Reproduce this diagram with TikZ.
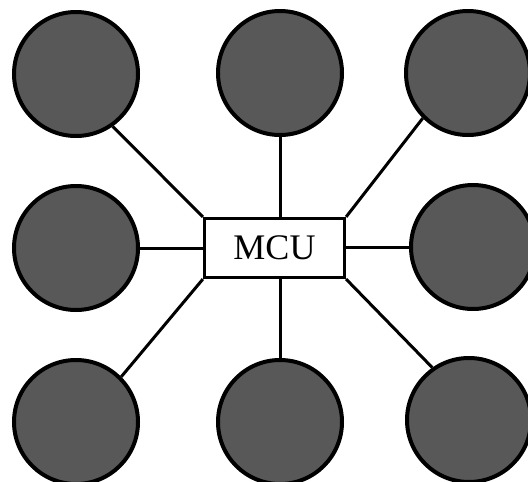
\documentclass[tikz,border=0pt]{standalone}
\usepackage{fontspec}
\setmainfont{Liberation Serif}
\begin{document}
\begin{tikzpicture}[x=1pt,y=-1pt,
  device/.style={circle, draw=black, line width=4pt, fill={rgb,255:red,88;green,88;blue,88},
    minimum size=124pt, inner sep=0pt},
  hub/.style={draw=black, line width=3.2pt, fill=white, minimum width=140pt,
    minimum height=59pt, inner sep=0pt, font=\fontsize{36}{40}\selectfont},
  link/.style={draw=black, line width=3pt}]
  \useasboundingbox (0,0) rectangle (528,482);
  \clip (0,0) rectangle (528,482);

  % peripheral devices
  \node[device] (tl) at (76,74)  {};
  \node[device] (tm) at (280,73) {};
  \node[device] (tr) at (468,73) {};
  \node[device] (ml) at (76,248) {};
  \node[device] (mr) at (473,247) {};
  \node[device] (bl) at (76,422) {};
  \node[device] (bm) at (280,422) {};
  \node[device] (br) at (469,420) {};

  % central controller
  \node[hub] (mcu) at (274.5,248) {MCU};

  % connections
  \draw[link] (mcu.north west) -- (tl.-55);
  \draw[link] (tm.south) -- (tm.south |- mcu.north);
  \draw[link] (mcu.north east) -- (tr.-135);
  \draw[link] (ml.east) -- (ml.east -| mcu.west);
  \draw[link] (mcu.east |- mr.west) -- (mr.west);
  \draw[link] (mcu.south west) -- (bl.45);
  \draw[link] (bm.north) -- (bm.north |- mcu.south);
  \draw[link] (mcu.south east) -- (br.125);
\end{tikzpicture}
\end{document}
